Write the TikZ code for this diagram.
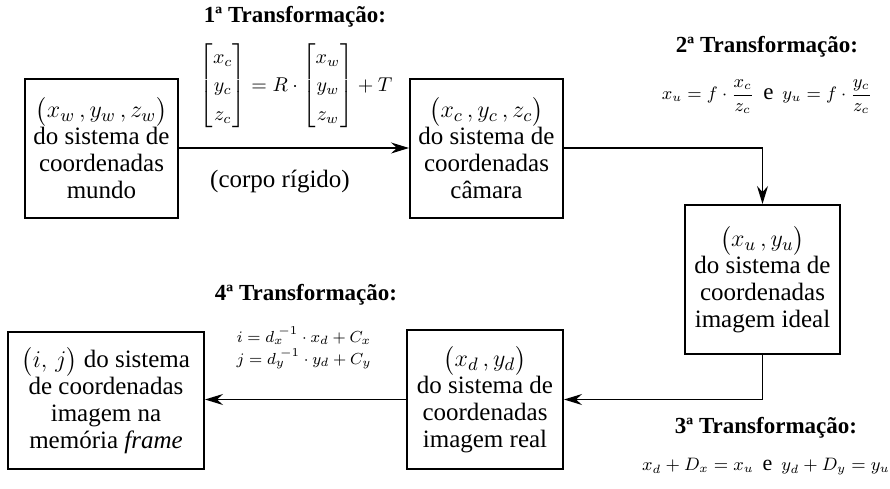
\documentclass[tikz,border=0pt]{standalone}
\usepackage{amsmath}
\usepackage{fontspec}
\setmainfont{Liberation Serif}
\usetikzlibrary{arrows.meta, positioning}

\begin{document}
\begin{tikzpicture}[
    x=0.5pt, y=-0.5pt,
    coordbox/.style={rectangle, draw, line width=1pt, align=center, inner sep=1pt, font=\fontsize{12.5}{13.5}\selectfont},
    title/.style={font=\fontsize{11.5}{13}\selectfont\bfseries},
    formula/.style={font=\fontsize{9}{11}\selectfont, align=center},
    arrow/.style={-{Stealth[length=9pt, width=5.5pt, inset=3pt]}, line width=0.6pt}
]
\useasboundingbox (0,0) rectangle (890,488);

% caixas dos sistemas de coordenadas
\node[coordbox, minimum width=76.5pt, minimum height=69.5pt] (mundo) at (101.5,148)
    {$\bigl(x_w\,, y_w\,, z_w\bigr)$\\do sistema de\\coordenadas\\mundo};
\node[coordbox, minimum width=76.5pt, minimum height=69.5pt] (camara) at (486.5,148)
    {$\bigl(x_c\,, y_c\,, z_c\bigr)$\\do sistema de\\coordenadas\\câmara};
\node[coordbox, minimum width=77.5pt, minimum height=74.5pt] (ideal) at (762.5,279.5)
    {$\bigl(x_u\,, y_u\bigr)$\\do sistema de\\coordenadas\\imagem ideal};
\node[coordbox, minimum width=78pt, minimum height=69.5pt] (real) at (485,399.5)
    {$\bigl(x_d\,, y_d\bigr)$\\do sistema de\\coordenadas\\imagem real};
\node[coordbox, minimum width=98pt, minimum height=68.5pt] (frame) at (106,400.5)
    {$\bigl(i,\, j\bigr)$ do sistema\\de coordenadas\\imagem na\\memória \textit{frame}};

% transformacoes
\node[title] (t1) at (295,17) {1ª Transformação:};
\node[formula, font=\fontsize{10}{11}\selectfont, inner sep=0pt] (eq1) at (296,86)
    {\renewcommand{\arraystretch}{1.3}$\begin{bmatrix} x_c\\ y_c\\ z_c \end{bmatrix} = R\cdot\begin{bmatrix} x_w\\ y_w\\ z_w \end{bmatrix} + T$};
\node[font=\fontsize{12.5}{13.5}\selectfont] (rigido) at (280,182) {(corpo rígido)};

\node[title] (t2) at (767,47) {2ª Transformação:};
\node[formula, font=\fontsize{9}{11}\selectfont] (eq2) at (767,97)
    {$x_u = f\cdot\dfrac{x_c}{z_c}$ \ {\fontsize{11.5}{13}\selectfont e} \ $y_u = f\cdot\dfrac{y_c}{z_c}$};

\node[title] (t3) at (766,428) {3ª Transformação:};
\node[formula, font=\fontsize{9}{12}\selectfont] (eq3) at (766,467)
    {$x_d + D_x = x_u$ \ {\fontsize{11}{13}\selectfont e} \ $y_d + D_y = y_u$};

\node[title] (t4) at (306,295) {4ª Transformação:};
\node[formula, font=\fontsize{8}{10}\selectfont] (eq4) at (304,348)
    {$i = d_x^{\;-1}\cdot x_d + C_x$\\[1pt] $j = d_y^{\;-1}\cdot y_d + C_y$};

% conexoes
\draw[arrow] (mundo) -- (camara);
\draw[arrow] (camara.east) -| (ideal.north);
\draw[arrow] (ideal.south) |- (real.east);
\draw[arrow] (real.west) -- (frame.east |- real.west);
\end{tikzpicture}
\end{document}
